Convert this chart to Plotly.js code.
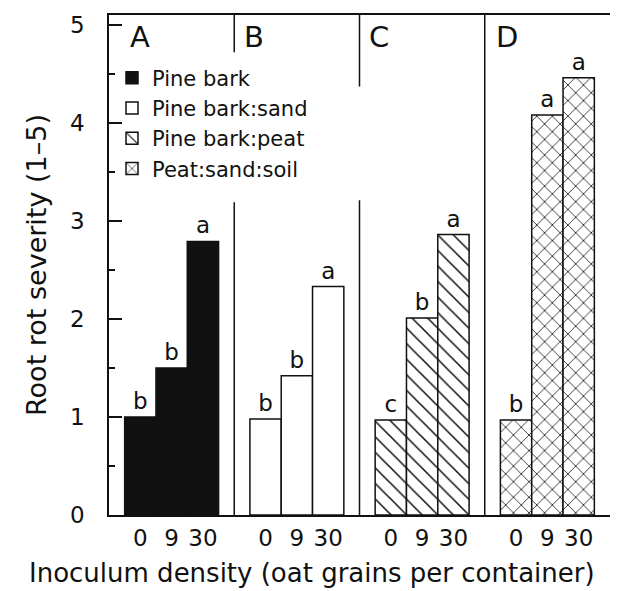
<!DOCTYPE html>
<html><head><meta charset="utf-8">
<script src="https://cdn.plot.ly/plotly-3.0.1.min.js"></script>
<style>html,body{margin:0;padding:0;background:#fff}</style>
</head><body><div id="chart" style="width:629px;height:591px"></div>
<script>
// ---- data ----
const panels = ['A', 'B', 'C', 'D'];
const substrates = ['Pine bark', 'Pine bark:sand', 'Pine bark:peat', 'Peat:sand:soil'];
const densities = ['0', '9', '30'];
const pineBark = [1.00, 1.50, 2.79];
const pineBarkSand = [0.98, 1.42, 2.33];
const pineBarkPeat = [0.97, 2.01, 2.86];
const peatSandSoil = [0.97, 4.08, 4.46];
const lettersPineBark = ['b', 'b', 'a'];
const lettersPineBarkSand = ['b', 'b', 'a'];
const lettersPineBarkPeat = ['c', 'b', 'a'];
const lettersPeatSandSoil = ['b', 'a', 'a'];

const seriesValues = [pineBark, pineBarkSand, pineBarkPeat, peatSandSoil];
const seriesLetters = [lettersPineBark, lettersPineBarkSand, lettersPineBarkPeat, lettersPeatSandSoil];

// ---- styles ----
const FONT = 'DejaVu Sans, Arial, sans-serif';
const fills = [
  {color: '#111111'},
  {color: '#ffffff'},
  {color: '#ffffff', pattern: {shape: '\\', size: 11, solidity: 0.14, fgcolor: '#111', bgcolor: '#fff', fillmode: 'replace'}},
  {color: '#ffffff', pattern: {shape: 'x', size: 11, solidity: 0.14, fgcolor: '#111', bgcolor: '#fff', fillmode: 'replace'}}
];
const PANEL_W = 4; // axis units per panel

const pos = (p, i) => PANEL_W * p + 1 + i;

const traces = substrates.map((name, p) => {
  const f = fills[p];
  const marker = {color: f.color, line: {color: '#111', width: 1.5}};
  if (f.pattern) marker.pattern = f.pattern;
  return {
    type: 'bar', name: name,
    x: densities.map((d, i) => pos(p, i)),
    y: seriesValues[p],
    width: 1,
    marker: marker,
    text: seriesLetters[p],
    textposition: 'outside',
    constraintext: 'none',
    cliponaxis: false,
    textfont: {family: FONT, size: 23, color: '#111'},
    hoverinfo: 'x+y+name'
  };
});

const tickvals = [], ticktext = [];
panels.forEach((_, p) => densities.forEach((d, i) => { tickvals.push(pos(p, i)); ticktext.push(d); }));

const YMAX = 5.1;
const lineStyle = {color: '#111', width: 1.5};
const shapes = [
  // panel dividers (interrupted where legend text crosses)
  {type: 'line', xref: 'x', yref: 'y', x0: 4, x1: 4, y0: 0, y1: 3.19, line: lineStyle},
  {type: 'line', xref: 'x', yref: 'y', x0: 4, x1: 4, y0: 4.72, y1: YMAX, line: lineStyle},
  {type: 'line', xref: 'x', yref: 'y', x0: 8, x1: 8, y0: 0, y1: 3.21, line: lineStyle},
  {type: 'line', xref: 'x', yref: 'y', x0: 8, x1: 8, y0: 4.37, y1: YMAX, line: lineStyle},
  {type: 'line', xref: 'x', yref: 'y', x0: 12, x1: 12, y0: 0, y1: YMAX, line: lineStyle}
];

const labelOffsets = [0.6, 0.25, 0.25, 0.3];
const annotations = panels.map((t, p) => ({
  text: t, xref: 'x', yref: 'y', x: PANEL_W * p + labelOffsets[p], y: 4.88,
  xanchor: 'left', yanchor: 'middle', showarrow: false,
  font: {family: FONT, size: 29, color: '#111'}
}));
annotations.push({
  text: 'Inoculum density (oat grains per container)',
  xref: 'paper', yref: 'paper', x: 0.405, y: -0.116,
  xanchor: 'center', yanchor: 'middle', showarrow: false,
  font: {family: FONT, size: 26, color: '#111'}
});

const layout = {
  width: 629, height: 591,
  margin: {l: 109, r: 19, t: 15, b: 76},
  paper_bgcolor: '#fff', plot_bgcolor: '#fff',
  showlegend: true,
  legend: {
    x: 0.006, y: 0.915, xanchor: 'left', yanchor: 'top',
    bgcolor: 'rgba(0,0,0,0)', borderwidth: 0,
    font: {family: FONT, size: 21, color: '#111'},
    itemclick: false, itemdoubleclick: false
  },
  barmode: 'overlay',
  xaxis: {
    range: [0, 16], tickvals: tickvals, ticktext: ticktext,
    ticks: '', showgrid: false, zeroline: false,
    showline: true, mirror: true, linecolor: '#111', linewidth: 1.5,
    tickfont: {family: FONT, size: 23, color: '#111'},
    ticklabelstandoff: 2, fixedrange: true
  },
  yaxis: {
    range: [0, YMAX], tickvals: [0, 1, 2, 3, 4, 5],
    ticks: 'inside', ticklen: 13, tickwidth: 1.5, tickcolor: '#111',
    minor: {dtick: 0.5, ticks: 'inside', ticklen: 6, tickwidth: 1.5, tickcolor: '#111', showgrid: false},
    showgrid: false, zeroline: false,
    showline: true, linecolor: '#111', linewidth: 1.5,
    tickfont: {family: FONT, size: 23, color: '#111'},
    ticklabelstandoff: 18,
    title: {text: 'Root rot severity (1\u20135)', font: {family: FONT, size: 27, color: '#111'}, standoff: 16},
    fixedrange: true
  },
  yaxis2: {
    overlaying: 'y', side: 'right', anchor: 'x',
    range: [0, YMAX], tick0: 0, dtick: 0.5,
    ticks: 'inside', ticklen: 14, tickwidth: 1.5, tickcolor: '#111',
    showticklabels: false, showgrid: false, zeroline: false,
    showline: true, linecolor: '#111', linewidth: 1.5, fixedrange: true
  },
  shapes: shapes,
  annotations: annotations
};

Plotly.newPlot('chart', traces, layout, {displayModeBar: false, staticPlot: false});
</script>
</body></html>
